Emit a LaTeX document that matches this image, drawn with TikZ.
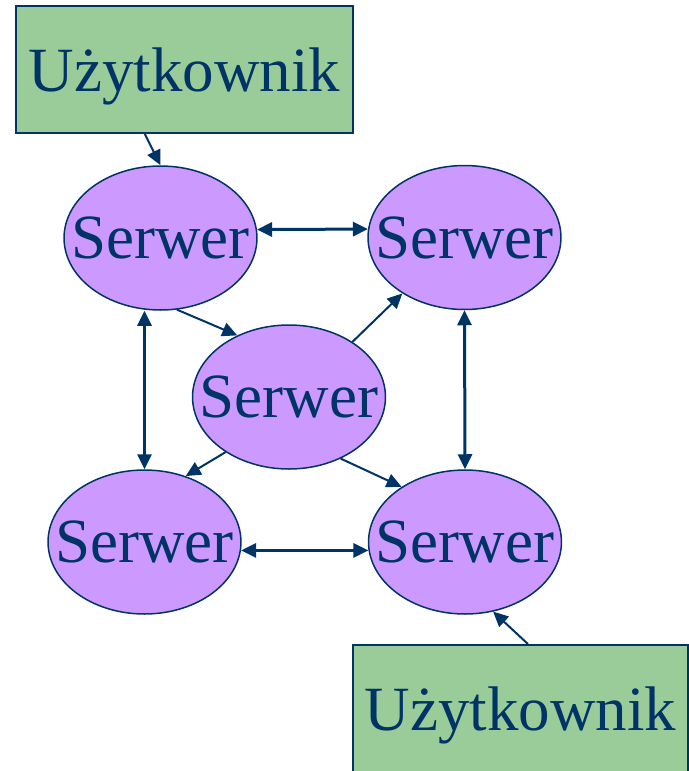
\documentclass[tikz,border=0pt]{standalone}
\usepackage{fontspec}
\setmainfont{Liberation Serif}
\usetikzlibrary{shapes.geometric,arrows.meta,calc}

\definecolor{navy}{HTML}{003366}
\definecolor{usergreen}{HTML}{99CC99}
\definecolor{serverviolet}{HTML}{CC99FF}

\begin{document}
\begin{tikzpicture}[x=0.5pt, y=-0.5pt,
    every node/.style={text=navy, font=\fontsize{31.5}{36}\selectfont, inner sep=0pt},
    userbox/.style={draw=navy, line width=1pt, fill=usergreen, minimum height=63.5pt, text depth=0pt},
    serverbox/.style={ellipse, draw=navy, line width=0.75pt, fill=serverviolet,
        inner xsep=-10.5pt, minimum width=96pt, minimum height=72pt},
    link/.style={draw=navy, line width=1pt, -{Triangle[length=7.5pt,width=7pt]}},
    peer/.style={draw=navy, line width=1.5pt, {Triangle[length=7.5pt,width=7pt]}-{Triangle[length=7.5pt,width=7pt]}}]
    % image from (0,0) to (689,771), y axis pointing down
    \useasboundingbox (0,0) rectangle (689,771);

    % Users
    \node[userbox, minimum width=168.5pt] (userA) at (184.5,69.5) {Użytkownik};
    \node[userbox, minimum width=167.5pt] (userB) at (520.5,708.5) {Użytkownik};

    % Servers
    \node[serverbox] (srvTL) at (160.5,238) {Serwer};
    \node[serverbox] (srvTR) at (464.5,237.5) {Serwer};
    \node[serverbox] (srvC) at (289,397) {Serwer};
    \node[serverbox] (srvBL) at (144.5,542) {Serwer};
    \node[serverbox] (srvBR) at (465,542) {Serwer};

    % Users to servers
    \coordinate (userAout) at ($(userA.south west)!0.383!(userA.south east)$);
    \coordinate (userBout) at ($(userB.north west)!0.522!(userB.north east)$);
    \draw[link] (userAout) -- (srvTL.north);
    \draw[link] (userBout) -- (srvBR.292);

    % Links between outer servers
    \draw[peer] (srvTL.5) -- (srvTR.175);
    \draw[peer] (srvBL.-5) -- (srvBR.185);
    \draw[peer] (srvBL.north |- srvTL.south) -- (srvBL.north);
    \draw[peer] (srvTR.south) -- (srvBR.north);

    % Links through the middle server
    \draw[link] (srvTL.283) -- (srvC.130);
    \draw[link] (srvC.41) -- (srvTR.222);
    \draw[link] (srvC.221) -- (srvBL.58);
    \draw[link] (srvC.310) -- (srvBR.139);
\end{tikzpicture}
\end{document}
